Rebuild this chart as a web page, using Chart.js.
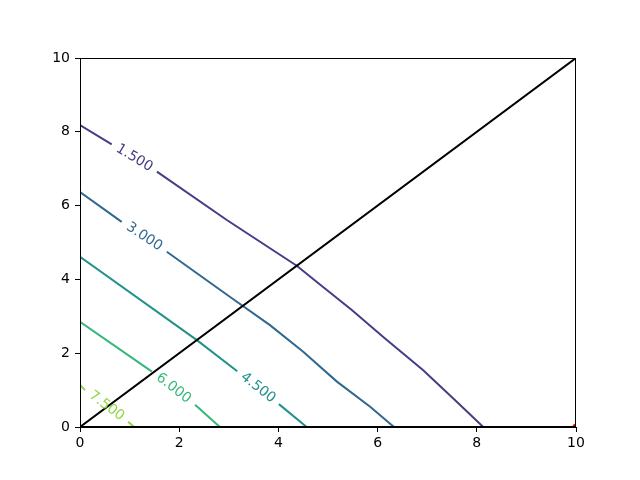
<!DOCTYPE html>
<html>
<head>
<meta charset="utf-8">
<script src="https://cdn.jsdelivr.net/npm/chart.js@4.4.1/dist/chart.umd.min.js"></script>
<style>
  html, body { margin: 0; padding: 0; background: #fff; }
</style>
</head>
<body>
<canvas id="chart" width="640" height="480"></canvas>
<script>
// contour levels and their viridis colours
const levelLabels = ['1.500', '3.000', '4.500', '6.000', '7.500'];
const levelColors = ['#433e85', '#31688e', '#21918c', '#35b779', '#90d743'];

// contour paths; a null y marks the gap where the label sits
const c1X = [0, 0.64, 1.1, 1.55, 2.96, 4.37, 4.80, 5.48, 6.15, 6.92, 7.59, 8.13];
const c1Y = [8.18, 7.66, null, 6.92, 5.61, 4.37, 3.90, 3.17, 2.40, 1.54, 0.69, 0];
const c2X = [0, 0.84, 1.3, 1.75, 3.02, 3.83, 4.50, 5.18, 5.85, 6.33];
const c2Y = [6.37, 5.56, null, 4.75, 3.53, 2.76, 2.04, 1.23, 0.55, 0];
const c3X = [0, 2.35, 3.17, 3.6, 4.01, 4.57];
const c3Y = [4.61, 2.36, 1.51, null, 0.62, 0];
const c4X = [0, 1.45, 1.9, 2.32, 2.82];
const c4Y = [2.85, 1.50, null, 0.60, 0];
const c5X = [0, 0.10, 0.5, 0.97, 1.09];
const c5Y = [1.14, 1.00, null, 0.14, 0];

// black triangle and red marker
const triX = [0, 10, 10, 0];
const triY = [0, 10, 0, 0];
const dotX = [10];
const dotY = [0];

const xTicks = [0, 2, 4, 6, 8, 10];
const yTicks = [0, 2, 4, 6, 8, 10];

const contourX = [c1X, c2X, c3X, c4X, c5X];
const contourY = [c1Y, c2Y, c3Y, c4Y, c5Y];

function toPoints(xs, ys) {
    return xs.map((x, i) => ({ x: x, y: ys[i] }));
}

const datasets = [];
datasets.push({
    data: toPoints(triX, triY),
    showLine: true,
    borderColor: '#000',
    borderWidth: 2,
    pointRadius: 0,
    fill: false
});
contourX.forEach((xs, k) => {
    datasets.push({
        data: toPoints(xs, contourY[k]),
        showLine: true,
        spanGaps: false,
        borderColor: levelColors[k],
        borderWidth: 2,
        pointRadius: 0,
        fill: false,
        contourLabel: levelLabels[k]
    });
});
datasets.push({
    data: toPoints(dotX, dotY),
    pointRadius: 3.5,
    pointBackgroundColor: '#ff0000',
    pointBorderWidth: 0,
    clip: 0
});

const FONT = "'DejaVu Sans', sans-serif";

// matplotlib style inline contour labels, centred in the gap of each path
const contourLabels = {
    id: 'contourLabels',
    afterDatasetsDraw(chart) {
        const ctx = chart.ctx;
        const xs = chart.scales.x, ys = chart.scales.y;
        chart.data.datasets.forEach(ds => {
            if (!ds.contourLabel) return;
            const i = ds.data.findIndex(p => p.y === null);
            if (i < 1) return;
            const a = ds.data[i - 1], b = ds.data[i + 1];
            const ax = xs.getPixelForValue(a.x), ay = ys.getPixelForValue(a.y);
            const bx = xs.getPixelForValue(b.x), by = ys.getPixelForValue(b.y);
            ctx.save();
            ctx.translate((ax + bx) / 2, (ay + by) / 2);
            ctx.rotate(Math.atan2(by - ay, bx - ax));
            ctx.fillStyle = ds.borderColor;
            ctx.font = '14px ' + FONT;
            ctx.textAlign = 'center';
            ctx.textBaseline = 'middle';
            ctx.fillText(ds.contourLabel, 0, 0);
            ctx.restore();
        });
    }
};

// axes frame on all four sides, snapped to whole pixels
const frame = {
    id: 'frame',
    afterDatasetsDraw(chart) {
        const a = chart.chartArea, ctx = chart.ctx;
        const l = Math.round(a.left) + 0.5, t = Math.round(a.top) + 0.5;
        const r = Math.round(a.right) - 0.5, b = Math.round(a.bottom) - 0.5;
        ctx.save();
        ctx.strokeStyle = '#000';
        ctx.lineWidth = 1;
        ctx.strokeRect(l, t, r - l, b - t);
        ctx.restore();
    }
};

new Chart(document.getElementById('chart').getContext('2d'), {
    type: 'scatter',
    data: { datasets: datasets },
    plugins: [contourLabels, frame],
    options: {
        responsive: false,
        animation: false,
        layout: { padding: { top: 58, right: 64, left: 0, bottom: 0 } },
        plugins: { legend: { display: false }, tooltip: { enabled: false } },
        scales: {
            x: {
                type: 'linear',
                min: 0,
                max: 10,
                afterFit: s => { s.height = 53; },
                afterBuildTicks: s => { s.ticks = xTicks.map(v => ({ value: v })); },
                grid: { drawOnChartArea: false, tickLength: 5, tickColor: '#000' },
                border: { color: '#000' },
                ticks: { color: '#000', padding: 3, maxRotation: 0, font: { family: FONT, size: 14 } }
            },
            y: {
                type: 'linear',
                min: 0,
                max: 10,
                afterFit: s => { s.width = 80; },
                afterBuildTicks: s => { s.ticks = yTicks.map(v => ({ value: v })); },
                grid: { drawOnChartArea: false, tickLength: 5, tickColor: '#000' },
                border: { color: '#000' },
                ticks: { color: '#000', padding: 5, font: { family: FONT, size: 14 } }
            }
        }
    }
});
</script>
</body>
</html>
